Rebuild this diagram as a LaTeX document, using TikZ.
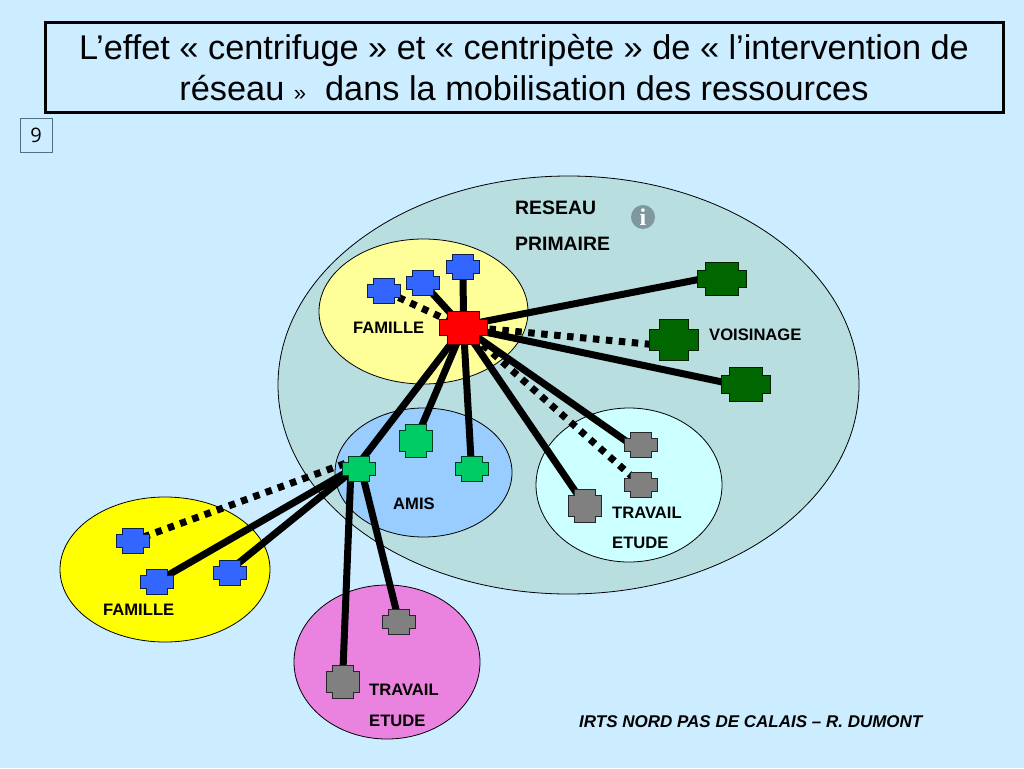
\documentclass[tikz,border=0pt]{standalone}
\usepackage{fontspec}
\setmainfont{Liberation Sans}
\newfontfamily\numfont{Open Sans}
\newfontfamily\infofont{Liberation Serif}
\definecolor{bgc}{HTML}{CCECFF}
\definecolor{resc}{HTML}{B8DEE0}
\definecolor{famc}{HTML}{FFFF99}
\definecolor{amic}{HTML}{99CCFF}
\definecolor{trac}{HTML}{CCFFFF}
\definecolor{yelc}{HTML}{FFFF00}
\definecolor{pinc}{HTML}{EA82E0}
\definecolor{bluc}{HTML}{3366FF}
\definecolor{redc}{HTML}{FF0000}
\definecolor{dgrc}{HTML}{006600}
\definecolor{grnc}{HTML}{00CC66}
\definecolor{gryc}{HTML}{808080}
\definecolor{infoc}{HTML}{7F979F}
\definecolor{numc}{HTML}{4F6F85}
\tikzset{
  x=1pt,y=-1pt,
  zone/.style={draw=black,line width=0.8pt,ellipse,inner sep=0pt},
  link/.style={line width=7pt,draw=black},
  dotlink/.style={line width=7pt,draw=black,dash pattern=on 6.5pt off 6.5pt},
  hub/.style={inner sep=0pt,minimum size=1pt},
  lab/.style={font=\fontsize{16.6}{19}\selectfont\bfseries,inner sep=0pt,text=black},
  biglab/.style={font=\fontsize{19.4}{22}\selectfont\bfseries,inner sep=0pt,text=black},
}
% draws a cross polygon round a named node: name, colour, half width, half height, inset x, inset y
\newcommand{\crossat}[6]{%
  \path[fill=#2,draw=black!70!#2,line width=0.8pt]
  ([shift={(-#3+#5,-#4)}]#1.center) -- ([shift={(#3-#5,-#4)}]#1.center) --
  ([shift={(#3-#5,-#4+#6)}]#1.center) -- ([shift={(#3,-#4+#6)}]#1.center) --
  ([shift={(#3,#4-#6)}]#1.center) -- ([shift={(#3-#5,#4-#6)}]#1.center) --
  ([shift={(#3-#5,#4)}]#1.center) -- ([shift={(-#3+#5,#4)}]#1.center) --
  ([shift={(-#3+#5,#4-#6)}]#1.center) -- ([shift={(-#3,#4-#6)}]#1.center) --
  ([shift={(-#3,-#4+#6)}]#1.center) -- ([shift={(-#3+#5,-#4+#6)}]#1.center) -- cycle;}
\usetikzlibrary{shapes.geometric}
\begin{document}
\begin{tikzpicture}
\useasboundingbox (0,0) rectangle (1024,768);
\fill[bgc] (0,0) rectangle (1024,768);
% title
\node[draw=black,line width=3pt,minimum width=958pt,minimum height=90pt,inner sep=0pt,align=center,
  font=\fontsize{34.3}{41}\selectfont] (title) at (524,67.5)
  {L’effet « centrifuge » et « centripète » de « l’intervention de\\réseau {\fontsize{22}{41}\selectfont »}\ \ dans la mobilisation des ressources};
\node[draw=numc,line width=1pt,minimum width=32pt,minimum height=34pt,inner sep=0pt,
  font=\numfont\fontsize{20}{24}\selectfont] (num) at (36,135.5) {9};
% zones
\node[zone,fill=resc,minimum width=581pt,minimum height=418pt] (res) at (568.5,385) {};
\node[zone,fill=famc,minimum width=209pt,minimum height=145pt] (fam) at (423.5,311.5) {};
\node[zone,fill=amic,minimum width=177pt,minimum height=129pt] (ami) at (423.5,472.5) {};
\node[zone,fill=trac,minimum width=186pt,minimum height=154pt] (tra) at (629,485) {};
\node[zone,fill=yelc,minimum width=210pt,minimum height=145pt] (yel) at (165,569.5) {};
\node[zone,fill=pinc,minimum width=186pt,minimum height=154pt] (pin) at (387,662) {};
% info icon
\node[circle,fill=infoc,minimum size=24pt,inner sep=0pt,text=white,
  font=\infofont\fontsize{24}{24}\selectfont\bfseries] (info) at (643,217) {i};
% labels
\node[biglab,anchor=west] (l1) at (515,208) {RESEAU};
\node[biglab,anchor=west] (l2) at (515,244) {PRIMAIRE};
\node[lab,anchor=west] (l3) at (353,328) {FAMILLE};
\node[lab,anchor=west] (l4) at (709,335) {VOISINAGE};
\node[lab,anchor=west] (l5) at (393,504) {AMIS};
\node[lab,anchor=west] (l6) at (612,513) {TRAVAIL};
\node[lab,anchor=west] (l7) at (612,543) {ETUDE};
\node[lab,anchor=west] (l8) at (103,610) {FAMILLE};
\node[lab,anchor=west] (l9) at (369,690) {TRAVAIL};
\node[lab,anchor=west] (l10) at (369,721) {ETUDE};
\node[lab,anchor=west,font=\fontsize{17}{19}\selectfont\bfseries\itshape] (foot) at (579,722) {IRTS NORD PAS DE CALAIS – R. DUMONT};
% hub positions
\node[hub] (red) at (463.5,327.5) {};
\node[hub] (b1) at (383.5,290.5) {};
\node[hub] (b2) at (423,283) {};
\node[hub] (b3) at (463,266.5) {};
\node[hub] (d1) at (721.5,279) {};
\node[hub] (d2) at (673.5,339.5) {};
\node[hub] (d3) at (746,384) {};
\node[hub] (g1) at (415.5,440.5) {};
\node[hub] (g2) at (471.5,468.5) {};
\node[hub] (g3) at (359,468.5) {};
\node[hub] (s1) at (641,444.5) {};
\node[hub] (s2) at (641,484.5) {};
\node[hub] (s3) at (585,505.5) {};
\node[hub] (y1) at (132.5,541) {};
\node[hub] (y2) at (157,581.5) {};
\node[hub] (y3) at (230,573) {};
\node[hub] (p1) at (399,621.5) {};
\node[hub] (p2) at (342.5,682) {};
% connectors
\draw[dotlink] (red.center) -- (b1.center);
\draw[dotlink] ([yshift=1pt]red.center) -- ([yshift=-7pt]d2.center);
\draw[dotlink] (red.center) -- (s2.center);
\draw[dotlink] ([shift={(-14,-5)}]g3.center) -- (y1.center);
\foreach \t in {b2,b3,g1,g2,s3}{\draw[link] (red.center) -- (\t.center);}
\draw[link] ([yshift=2pt]red.center) -- ([yshift=4pt]d1.center);
\draw[link] (red.center) -- ([yshift=-3pt]d3.center);
\draw[link] (red.center) -- ([yshift=-7pt]s1.center);
\draw[link] (red.center) -- ([xshift=-4pt]g3.center);
\draw[link] ([yshift=3.5pt]g3.center) -- (y2.center);
\draw[link] ([yshift=3pt]g3.center) -- ([yshift=3pt]y3.center);
\draw[link] ([xshift=2pt]g3.center) -- (p1.center);
\draw[link] ([xshift=-8pt]g3.center) -- (p2.center);
% crosses
\crossat{red}{redc}{24}{16.5}{8}{8.5}
\crossat{b1}{bluc}{16.5}{12.5}{6}{6}
\crossat{b2}{bluc}{16.5}{12.5}{6}{6}
\crossat{b3}{bluc}{16.5}{12.5}{6}{6}
\crossat{y1}{bluc}{16.5}{12.5}{6}{6}
\crossat{y2}{bluc}{16.5}{12.5}{6}{6}
\crossat{y3}{bluc}{16.5}{12.5}{6}{6}
\crossat{d1}{dgrc}{24.5}{16.5}{8}{8}
\crossat{d2}{dgrc}{24.5}{20.5}{10}{10}
\crossat{d3}{dgrc}{24.5}{17}{8}{8}
\crossat{g1}{grnc}{16.5}{16.5}{6}{6}
\crossat{g2}{grnc}{16.5}{12.5}{6}{6}
\crossat{g3}{grnc}{16.5}{12.5}{6}{6}
\crossat{s1}{gryc}{16.5}{12.5}{6}{6}
\crossat{s2}{gryc}{16.5}{12.5}{6}{6}
\crossat{s3}{gryc}{16.5}{16.5}{6}{6}
\crossat{p1}{gryc}{16.5}{12.5}{6}{6}
\crossat{p2}{gryc}{16.5}{16.5}{6}{6}
\end{tikzpicture}
\end{document}
